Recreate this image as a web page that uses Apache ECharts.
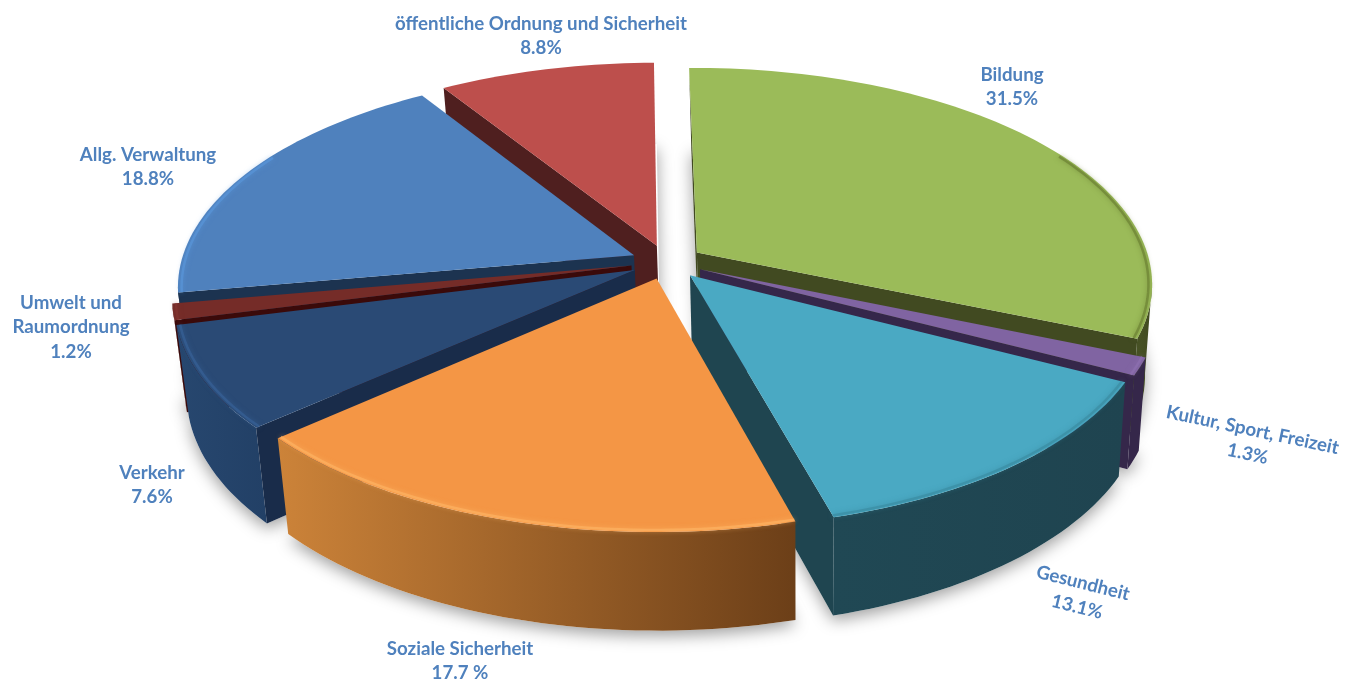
<!DOCTYPE html>
<html lang="de">
<head>
<meta charset="utf-8">
<title>Ausgaben nach Aufgabenbereichen</title>
<style>html,body{margin:0;padding:0;background:#fff}#chart{width:1355px;height:680px}</style>
<script src="https://cdn.jsdelivr.net/npm/echarts@6/dist/echarts.min.js"></script>
</head>
<body>
<div id="chart"></div>
<script>
// Slices, clockwise from twelve o'clock
const categories = ['Bildung', 'Kultur, Sport, Freizeit', 'Gesundheit', 'Soziale Sicherheit', 'Verkehr', 'Umwelt und\nRaumordnung', 'Allg. Verwaltung', 'öffentliche Ordnung und Sicherheit'];
const shares = [31.5, 1.3, 13.1, 17.7, 7.6, 1.2, 18.8, 8.8];
const unitSuffix = ['%', '%', '%', ' %', '%', '%', '%', '%'];

// Back-to-front order for the painter's algorithm
const paintOrder = [7, 0, 6, 5, 1, 4, 2, 3];

const topColors = ['#9bbb59', '#8064a2', '#4aa9c3', '#f49645', '#2a4a75', '#752c28', '#4f81bd', '#bd4f4c'];
const cutColors = ['#414a21', '#35274a', '#1f4550', '#6f4119', '#192c4a', '#3a0a0a', '#1c3350', '#4f1f1f'];
const wallLeft = ['#4a5527', '#35274a', '#204854', '#cc8339', '#27476f', '#5a1512', '#1c3350', '#4f1f1f'];
const wallRight = ['#414a21', '#35274a', '#1f4450', '#6c3f18', '#224066', '#5a1512', '#1c3350', '#4f1f1f'];
const rimColors = ['#66792f', '#8f72b3', '#38889f', '#ffb566', '#38649b', '#84342f', '#5a97dc', '#bd4f4c'];

// Pseudo-3D view of the pie plate
const view = { cx: 667, cy: 262, rx: 453, ry: 213, persp: 0.14, explode: 0.08, vanishX: 800, shrink: 0.02, turn: -0.6 };

const labelPlacement = [
  { x: 1012, y: 87, rot: 0 },
  { x: 1250, y: 442, rot: 12 },
  { x: 1080, y: 595, rot: 14 },
  { x: 460, y: 661, rot: 0 },
  { x: 152, y: 485, rot: 0 },
  { x: 71, y: 327, rot: 0 },
  { x: 148, y: 167, rot: 0 },
  { x: 541, y: 36, rot: 0 }
];

const total = shares.reduce((a, b) => a + b, 0);
const seriesData = paintOrder.map(i => [i, shares[i]]);

function sliceAngles(i) {
  let before = 0;
  for (let k = 0; k < i; k++) before += shares[k];
  const turn = view.turn * Math.PI / 180;
  return [turn + before / total * Math.PI * 2, turn + (before + shares[i]) / total * Math.PI * 2];
}

// Plate coordinates (u right, v towards the viewer) to screen, top surface
function topPoint(u, v) {
  const w = 1 / (1 - view.persp * v);
  return [view.cx + view.rx * u * w, view.cy + view.ry * v * w, v];
}
// Same point on the underside of the plate
function lowerPoint(p) {
  return [p[0] + (view.vanishX - p[0]) * view.shrink, p[1] + 90 + 8 * p[2]];
}

function sliceGeometry(i) {
  const [a0, a1] = sliceAngles(i);
  const mid = (a0 + a1) / 2;
  const ox = view.explode * Math.sin(mid), oy = -view.explode * Math.cos(mid);
  const apex = topPoint(ox, oy);
  const steps = Math.max(3, Math.ceil((a1 - a0) / (Math.PI / 120)));
  const arc = [];
  for (let s = 0; s <= steps; s++) {
    const a = a0 + (a1 - a0) * s / steps;
    arc.push(topPoint(ox + Math.sin(a), oy - Math.cos(a)));
  }
  return { apex, arc };
}

const xy = p => [p[0], p[1]];

function renderShadow(params, api) {
  const g = sliceGeometry(api.value(0));
  const outline = [g.apex].concat(g.arc).map(lowerPoint);
  return {
    type: 'polygon', shape: { points: outline },
    style: { fill: '#fff', shadowBlur: 16, shadowColor: 'rgba(0,0,0,0.38)', shadowOffsetY: 5 }
  };
}

function renderSlice(params, api) {
  const i = api.value(0);
  const g = sliceGeometry(i);
  const arc = g.arc, apex = g.apex;
  const first = arc[0], last = arc[arc.length - 1];
  const children = [];

  // Outer wall: only the run of arc segments that faces the viewer
  const front = [];
  for (let s = 0; s < arc.length - 1; s++) {
    if (arc[s + 1][0] < arc[s][0]) {
      if (!front.length) front.push(arc[s]);
      front.push(arc[s + 1]);
    }
  }
  if (front.length > 1) {
    children.push({
      type: 'polygon',
      shape: { points: front.map(xy).concat(front.slice().reverse().map(lowerPoint)) },
      style: {
        fill: new echarts.graphic.LinearGradient(0, 0, 1, 0, [
          { offset: 0, color: wallLeft[i] }, { offset: 1, color: wallRight[i] }
        ])
      }
    });
  }

  // Radial cut faces, when they turn towards the viewer
  const cut = p => ({
    type: 'polygon',
    shape: { points: [xy(apex), xy(p), lowerPoint(p), lowerPoint(apex)] },
    style: { fill: cutColors[i] }
  });
  if (first[0] < apex[0]) children.push(cut(first));
  if (last[0] > apex[0]) children.push(cut(last));

  // Top surface
  children.push({
    type: 'polygon',
    shape: { points: [xy(apex)].concat(arc.map(xy)) },
    style: { fill: topColors[i] }
  });
  // Soft bevel on the part of the rim nearer the viewer
  const rim = arc.filter(p => p[2] > -0.55)
    .map(p => [p[0] + (apex[0] - p[0]) * 0.008, p[1] + (apex[1] - p[1]) * 0.008]);
  if (rim.length > 1) {
    children.push({
      type: 'polyline',
      shape: { points: rim },
      style: { stroke: rimColors[i], lineWidth: 2.5, fill: null, shadowBlur: 5, shadowColor: rimColors[i], opacity: 0.6 }
    });
  }
  return { type: 'group', children };
}

function renderLabel(params, api) {
  const i = api.value(0);
  const place = labelPlacement[i];
  return {
    type: 'text', x: place.x, y: place.y, rotation: -place.rot * Math.PI / 180,
    style: {
      text: categories[i] + '\n' + shares[i].toFixed(1) + unitSuffix[i],
      fill: '#4f81bd', font: 'bold 18.7px Lato, "Open Sans", sans-serif',
      align: 'center', verticalAlign: 'middle', lineHeight: 24.5
    }
  };
}

const chart = echarts.init(document.getElementById('chart'), null, { renderer: 'canvas' });
chart.setOption({
  animation: false,
  backgroundColor: '#ffffff',
  series: [
    { type: 'custom', coordinateSystem: 'none', z: 1, silent: true, data: seriesData, renderItem: renderShadow },
    { type: 'custom', coordinateSystem: 'none', z: 2, silent: true, data: seriesData, renderItem: renderSlice },
    { type: 'custom', coordinateSystem: 'none', z: 3, silent: true, data: seriesData, renderItem: renderLabel }
  ]
});
</script>
</body>
</html>
